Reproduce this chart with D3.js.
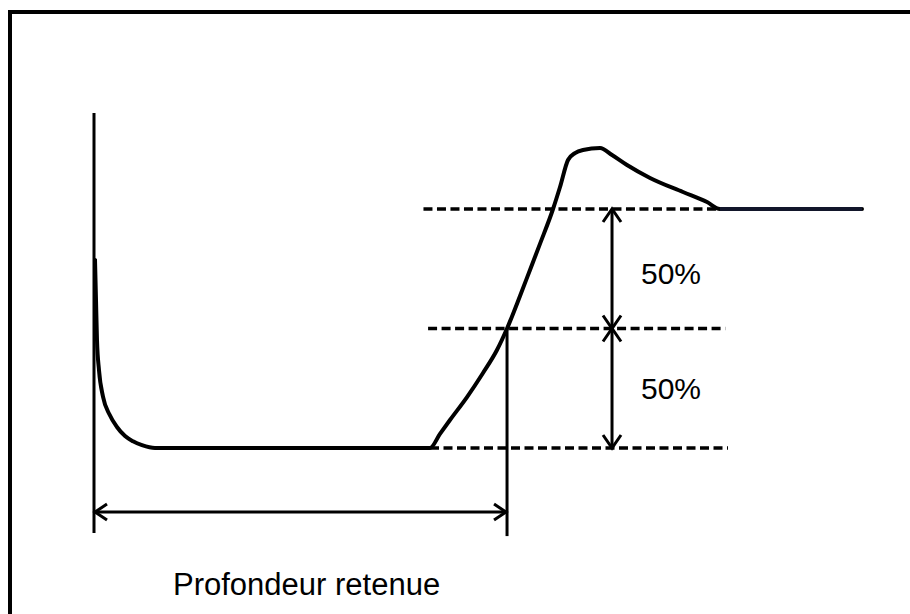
<!DOCTYPE html>
<html>
<head>
<meta charset="utf-8">
<script src="https://cdn.jsdelivr.net/npm/d3@7"></script>
<style>
  html, body { margin: 0; padding: 0; background: #ffffff; }
  svg { display: block; }
</style>
</head>
<body>
<svg id="chart" width="910" height="614"></svg>
<script>
// ---- data (depth in arbitrary units, signal normalised so plateau = 100) ----
const depth  = [0.13, 0.26, 0.39, 0.65, 1.17, 2.02, 2.99, 4.04, 5.08, 6.25, 7.94,
                43.75, 45.05, 46.35, 48.57, 50.65, 52.47, 53.78, 55.47, 56.77, 58.07,
                59.77, 60.68, 61.72, 62.63, 63.67, 65.89, 67.45, 69.40, 72.40, 76.69,
                79.82, 81.51, 100];
const signal = [78.7, 61.9, 45.2, 32.6, 21.5, 14.0, 8.8, 5.0, 2.8, 1.2, 0,
                0, 5.9, 11.7, 21.3, 31.4, 41.0, 50, 63.6, 74.5, 85.4,
                100, 109.2, 120.5, 123.4, 124.7, 125.5, 122.6, 118.4, 113.0, 107.1,
                102.9, 100, 100];
const levels      = [100, 50, 0];            // reference levels (dashed)
const levelStart  = [42.9, 43.5, 43.75];     // depth where each dashed line starts
const levelEnd    = [81.5, 82.2, 82.55];     // depth where each dashed line ends
const halfLabels  = ["50%", "50%"];
const retainedDepth = 53.78;                 // depth at 50 % of plateau
const bracketDepth  = 67.45;                 // depth of the vertical 50/50 bracket
const axisTop = 140.2, axisBottom = -35.6, arrowLevel = -26.8;
const caption = "Profondeur retenue";

// ---- scales ----
const x = d3.scaleLinear().domain([0, 100]).range([94, 862]);
const y = d3.scaleLinear().domain([0, 100]).range([448, 209]);

const svg = d3.select("#chart");

// frame (top + left)
svg.append("path")
  .attr("d", "M10,614 V12 H910")
  .attr("fill", "none").attr("stroke", "#000").attr("stroke-width", 4);

// vertical axis line
svg.append("line")
  .attr("x1", x(0)).attr("x2", x(0))
  .attr("y1", y(axisTop)).attr("y2", y(axisBottom))
  .attr("stroke", "#000").attr("stroke-width", 3);

// dashed reference levels
svg.selectAll("line.level").data(levels).join("line")
  .attr("class", "level")
  .attr("x1", (d, i) => x(levelStart[i]))
  .attr("x2", (d, i) => x(levelEnd[i]))
  .attr("y1", d => y(d)).attr("y2", d => y(d))
  .attr("stroke", "#000").attr("stroke-width", 3.5)
  .attr("stroke-dasharray", "9,4.5");

// signal curve
const pts = depth.map((d, i) => [d, signal[i]]);
const line = d3.line().x(d => x(d[0])).y(d => y(d[1])).curve(d3.curveMonotoneX);
svg.append("path")
  .datum(pts)
  .attr("d", line)
  .attr("fill", "none").attr("stroke", "#000")
  .attr("stroke-width", 4).attr("stroke-linejoin", "round").attr("stroke-linecap", "round");

// plateau (slightly navy tone)
svg.append("line")
  .attr("x1", x(81.51)).attr("x2", x(100))
  .attr("y1", y(100)).attr("y2", y(100))
  .attr("stroke", "#12162a").attr("stroke-width", 4);

// helper for open arrowheads
function arrowHead(px, py, dir, len, spread) {
  const [dx, dy] = dir;
  const bx = px - dx * len, by = py - dy * len;
  const nx = -dy * spread, ny = dx * spread;
  return `M${bx + nx},${by + ny} L${px},${py} L${bx - nx},${by - ny}`;
}

const g = svg.append("g").attr("stroke", "#000").attr("fill", "none")
  .attr("stroke-width", 3).attr("stroke-linecap", "butt");

// vertical 50/50 bracket
const bx = x(bracketDepth);
g.append("line").attr("x1", bx).attr("x2", bx).attr("y1", y(100)).attr("y2", y(0));
g.append("path").attr("d", arrowHead(bx, y(100), [0, -1], 13, 9));
g.append("path").attr("d", arrowHead(bx, y(50), [0, 1], 13, 9));
g.append("path").attr("d", arrowHead(bx, y(50), [0, -1], 13, 9));
g.append("path").attr("d", arrowHead(bx, y(0), [0, 1], 13, 9));

// vertical line at retained depth
g.append("line")
  .attr("x1", x(retainedDepth)).attr("x2", x(retainedDepth))
  .attr("y1", y(50)).attr("y2", y(axisBottom) + 3);

// horizontal double arrow
const ay = y(arrowLevel);
g.append("line").attr("x1", x(0)).attr("x2", x(retainedDepth)).attr("y1", ay).attr("y2", ay);
g.append("path").attr("d", arrowHead(x(0) + 1, ay, [-1, 0], 12, 8));
g.append("path").attr("d", arrowHead(x(retainedDepth) - 1, ay, [1, 0], 12, 8));

// labels
const labelY = [284, 399];
svg.selectAll("text.half").data(halfLabels).join("text")
  .attr("class", "half")
  .attr("x", 641)
  .attr("y", (d, i) => labelY[i])
  .attr("font-family", "Liberation Sans, Arial, sans-serif")
  .attr("font-size", 30)
  .attr("fill", "#000")
  .text(d => d);

svg.append("text")
  .attr("x", 173).attr("y", 595)
  .attr("font-family", "Liberation Sans, Arial, sans-serif")
  .attr("font-size", 31)
  .attr("fill", "#000")
  .text(caption);
</script>
</body>
</html>
